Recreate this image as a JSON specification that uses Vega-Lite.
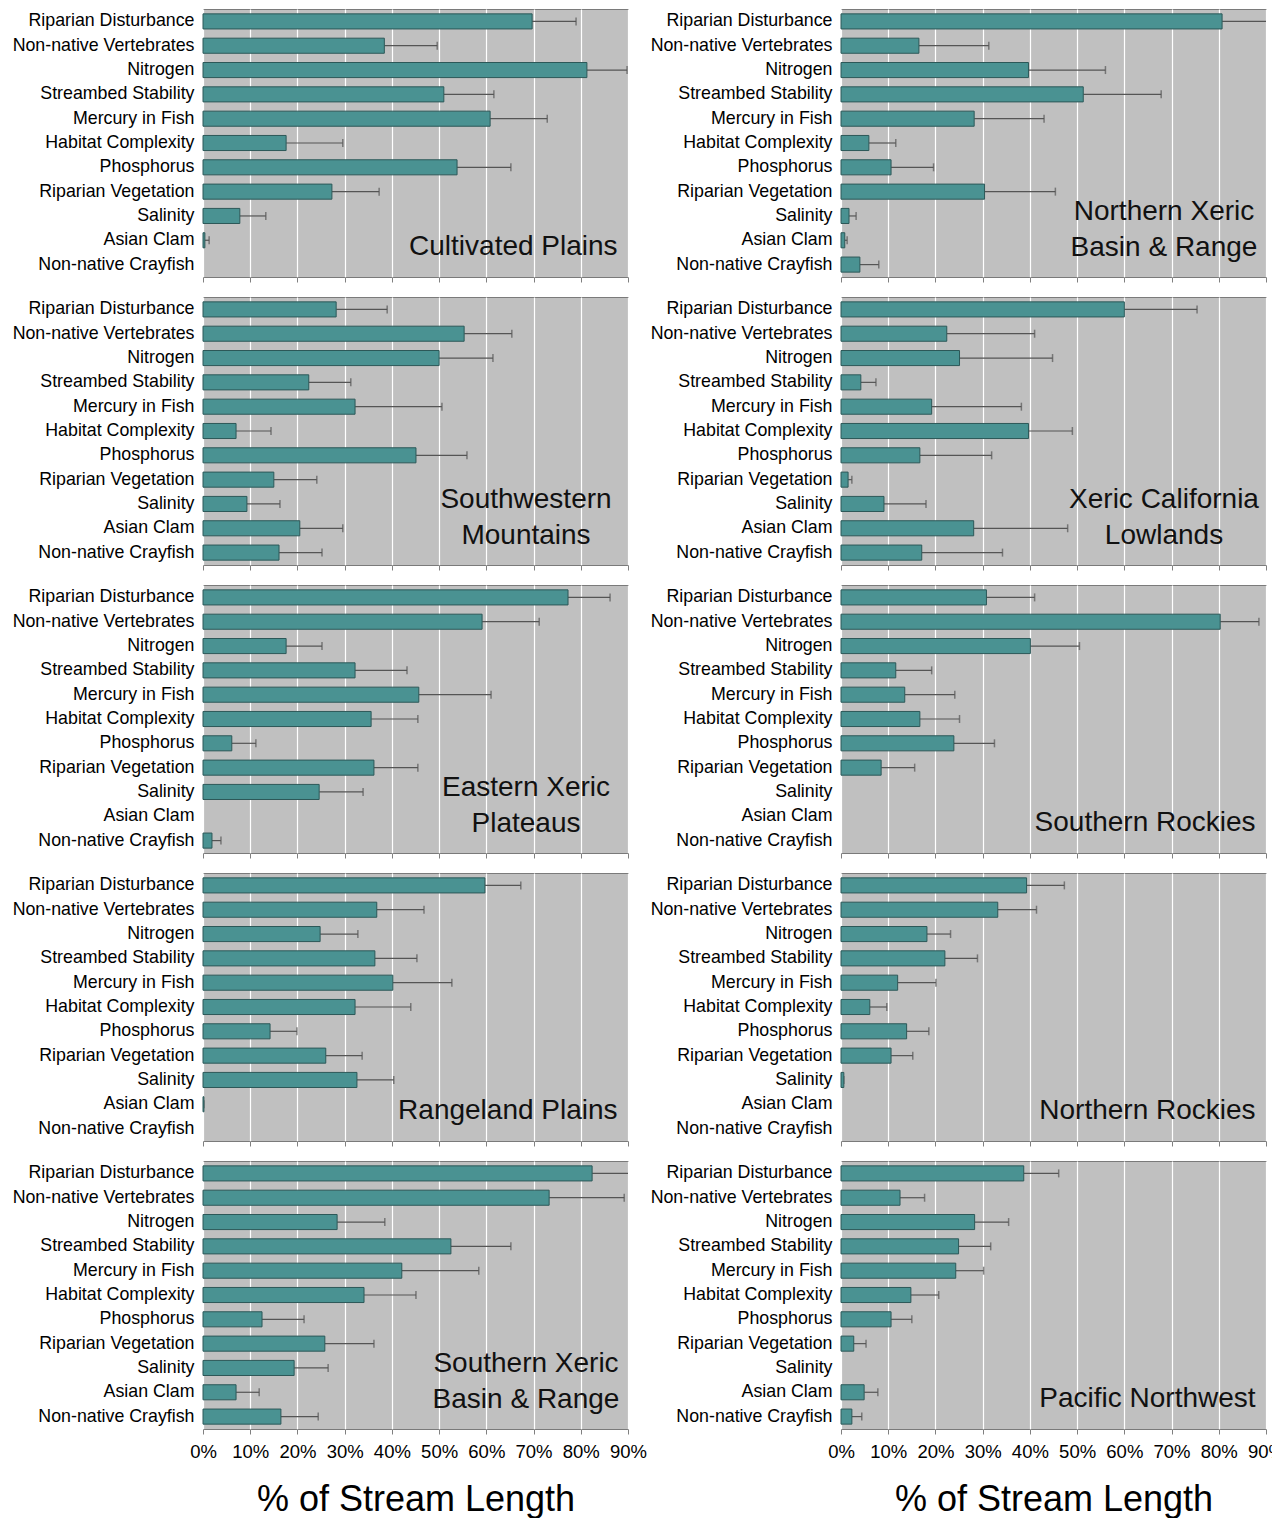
{
  "$schema": "https://vega.github.io/schema/vega-lite/v6.json",
  "padding": {"left": 11, "top": 8, "right": 0, "bottom": 0},
  "background": "#ffffff",
  "config": {
    "font": "Liberation Sans",
    "view": {"fill": "#c0c0c0", "stroke": "#7a7a7a", "strokeWidth": 1},
    "header": {"labels": false, "labelExpr": "''", "labelFontSize": 0, "labelPadding": 0, "titlePadding": 0},
    "headerFacet": {"labels": false, "labelExpr": "''", "labelFontSize": 0, "labelPadding": 0, "titlePadding": 0}
  },
  "data": {"values": [
    {"r": "Cultivated Plains", "c": "Riparian Disturbance", "v": 69.7, "e": 79.0},
    {"r": "Cultivated Plains", "c": "Non-native Vertebrates", "v": 38.4, "e": 49.6},
    {"r": "Cultivated Plains", "c": "Nitrogen", "v": 81.3, "e": 89.8},
    {"r": "Cultivated Plains", "c": "Streambed Stability", "v": 51.0, "e": 61.6},
    {"r": "Cultivated Plains", "c": "Mercury in Fish", "v": 60.8, "e": 72.9},
    {"r": "Cultivated Plains", "c": "Habitat Complexity", "v": 17.6, "e": 29.6},
    {"r": "Cultivated Plains", "c": "Phosphorus", "v": 53.8, "e": 65.2},
    {"r": "Cultivated Plains", "c": "Riparian Vegetation", "v": 27.3, "e": 37.3},
    {"r": "Cultivated Plains", "c": "Salinity", "v": 7.8, "e": 13.3},
    {"r": "Cultivated Plains", "c": "Asian Clam", "v": 0.4, "e": 1.3},
    {"r": "Cultivated Plains", "c": "Non-native Crayfish", "v": 0, "e": 0},

    {"r": "Northern Xeric|Basin & Range", "c": "Riparian Disturbance", "v": 80.7, "e": 93},
    {"r": "Northern Xeric|Basin & Range", "c": "Non-native Vertebrates", "v": 16.5, "e": 31.3},
    {"r": "Northern Xeric|Basin & Range", "c": "Nitrogen", "v": 39.7, "e": 56.0},
    {"r": "Northern Xeric|Basin & Range", "c": "Streambed Stability", "v": 51.3, "e": 67.8},
    {"r": "Northern Xeric|Basin & Range", "c": "Mercury in Fish", "v": 28.2, "e": 43.0},
    {"r": "Northern Xeric|Basin & Range", "c": "Habitat Complexity", "v": 5.9, "e": 11.6},
    {"r": "Northern Xeric|Basin & Range", "c": "Phosphorus", "v": 10.6, "e": 19.6},
    {"r": "Northern Xeric|Basin & Range", "c": "Riparian Vegetation", "v": 30.4, "e": 45.4},
    {"r": "Northern Xeric|Basin & Range", "c": "Salinity", "v": 1.7, "e": 3.2},
    {"r": "Northern Xeric|Basin & Range", "c": "Asian Clam", "v": 0.8, "e": 1.3},
    {"r": "Northern Xeric|Basin & Range", "c": "Non-native Crayfish", "v": 4.0, "e": 8.0},

    {"r": "Southwestern|Mountains", "c": "Riparian Disturbance", "v": 28.2, "e": 39.0},
    {"r": "Southwestern|Mountains", "c": "Non-native Vertebrates", "v": 55.3, "e": 65.4},
    {"r": "Southwestern|Mountains", "c": "Nitrogen", "v": 50.0, "e": 61.4},
    {"r": "Southwestern|Mountains", "c": "Streambed Stability", "v": 22.4, "e": 31.3},
    {"r": "Southwestern|Mountains", "c": "Mercury in Fish", "v": 32.2, "e": 50.6},
    {"r": "Southwestern|Mountains", "c": "Habitat Complexity", "v": 7.0, "e": 14.4},
    {"r": "Southwestern|Mountains", "c": "Phosphorus", "v": 45.1, "e": 55.9},
    {"r": "Southwestern|Mountains", "c": "Riparian Vegetation", "v": 15.0, "e": 24.1},
    {"r": "Southwestern|Mountains", "c": "Salinity", "v": 9.3, "e": 16.3},
    {"r": "Southwestern|Mountains", "c": "Asian Clam", "v": 20.5, "e": 29.6},
    {"r": "Southwestern|Mountains", "c": "Non-native Crayfish", "v": 16.1, "e": 25.2},

    {"r": "Xeric California|Lowlands", "c": "Riparian Disturbance", "v": 60.0, "e": 75.4},
    {"r": "Xeric California|Lowlands", "c": "Non-native Vertebrates", "v": 22.4, "e": 41.0},
    {"r": "Xeric California|Lowlands", "c": "Nitrogen", "v": 25.1, "e": 44.8},
    {"r": "Xeric California|Lowlands", "c": "Streambed Stability", "v": 4.2, "e": 7.4},
    {"r": "Xeric California|Lowlands", "c": "Mercury in Fish", "v": 19.2, "e": 38.2},
    {"r": "Xeric California|Lowlands", "c": "Habitat Complexity", "v": 39.7, "e": 49.0},
    {"r": "Xeric California|Lowlands", "c": "Phosphorus", "v": 16.7, "e": 31.9},
    {"r": "Xeric California|Lowlands", "c": "Riparian Vegetation", "v": 1.5, "e": 2.3},
    {"r": "Xeric California|Lowlands", "c": "Salinity", "v": 9.1, "e": 18.0},
    {"r": "Xeric California|Lowlands", "c": "Asian Clam", "v": 28.1, "e": 48.0},
    {"r": "Xeric California|Lowlands", "c": "Non-native Crayfish", "v": 17.1, "e": 34.2},

    {"r": "Eastern Xeric|Plateaus", "c": "Riparian Disturbance", "v": 77.3, "e": 86.2},
    {"r": "Eastern Xeric|Plateaus", "c": "Non-native Vertebrates", "v": 59.1, "e": 71.2},
    {"r": "Eastern Xeric|Plateaus", "c": "Nitrogen", "v": 17.6, "e": 25.2},
    {"r": "Eastern Xeric|Plateaus", "c": "Streambed Stability", "v": 32.2, "e": 43.2},
    {"r": "Eastern Xeric|Plateaus", "c": "Mercury in Fish", "v": 45.7, "e": 61.0},
    {"r": "Eastern Xeric|Plateaus", "c": "Habitat Complexity", "v": 35.6, "e": 45.5},
    {"r": "Eastern Xeric|Plateaus", "c": "Phosphorus", "v": 6.1, "e": 11.2},
    {"r": "Eastern Xeric|Plateaus", "c": "Riparian Vegetation", "v": 36.2, "e": 45.5},
    {"r": "Eastern Xeric|Plateaus", "c": "Salinity", "v": 24.6, "e": 33.9},
    {"r": "Eastern Xeric|Plateaus", "c": "Asian Clam", "v": 0, "e": 0},
    {"r": "Eastern Xeric|Plateaus", "c": "Non-native Crayfish", "v": 1.9, "e": 3.8},

    {"r": "Southern Rockies", "c": "Riparian Disturbance", "v": 30.8, "e": 41.0},
    {"r": "Southern Rockies", "c": "Non-native Vertebrates", "v": 80.3, "e": 88.5},
    {"r": "Southern Rockies", "c": "Nitrogen", "v": 40.1, "e": 50.5},
    {"r": "Southern Rockies", "c": "Streambed Stability", "v": 11.6, "e": 19.2},
    {"r": "Southern Rockies", "c": "Mercury in Fish", "v": 13.5, "e": 24.1},
    {"r": "Southern Rockies", "c": "Habitat Complexity", "v": 16.7, "e": 25.1},
    {"r": "Southern Rockies", "c": "Phosphorus", "v": 23.9, "e": 32.5},
    {"r": "Southern Rockies", "c": "Riparian Vegetation", "v": 8.5, "e": 15.6},
    {"r": "Southern Rockies", "c": "Salinity", "v": 0, "e": 0},
    {"r": "Southern Rockies", "c": "Asian Clam", "v": 0, "e": 0},
    {"r": "Southern Rockies", "c": "Non-native Crayfish", "v": 0, "e": 0},

    {"r": "Rangeland Plains", "c": "Riparian Disturbance", "v": 59.7, "e": 67.3},
    {"r": "Rangeland Plains", "c": "Non-native Vertebrates", "v": 36.8, "e": 46.8},
    {"r": "Rangeland Plains", "c": "Nitrogen", "v": 24.8, "e": 32.8},
    {"r": "Rangeland Plains", "c": "Streambed Stability", "v": 36.4, "e": 45.3},
    {"r": "Rangeland Plains", "c": "Mercury in Fish", "v": 40.2, "e": 52.7},
    {"r": "Rangeland Plains", "c": "Habitat Complexity", "v": 32.2, "e": 44.0},
    {"r": "Rangeland Plains", "c": "Phosphorus", "v": 14.2, "e": 19.9},
    {"r": "Rangeland Plains", "c": "Riparian Vegetation", "v": 26.0, "e": 33.7},
    {"r": "Rangeland Plains", "c": "Salinity", "v": 32.6, "e": 40.4},
    {"r": "Rangeland Plains", "c": "Asian Clam", "v": 0.2, "e": 0.2},
    {"r": "Rangeland Plains", "c": "Non-native Crayfish", "v": 0, "e": 0},

    {"r": "Northern Rockies", "c": "Riparian Disturbance", "v": 39.3, "e": 47.3},
    {"r": "Northern Rockies", "c": "Non-native Vertebrates", "v": 33.2, "e": 41.4},
    {"r": "Northern Rockies", "c": "Nitrogen", "v": 18.2, "e": 23.2},
    {"r": "Northern Rockies", "c": "Streambed Stability", "v": 22.0, "e": 28.9},
    {"r": "Northern Rockies", "c": "Mercury in Fish", "v": 12.0, "e": 20.1},
    {"r": "Northern Rockies", "c": "Habitat Complexity", "v": 6.1, "e": 9.7},
    {"r": "Northern Rockies", "c": "Phosphorus", "v": 13.9, "e": 18.6},
    {"r": "Northern Rockies", "c": "Riparian Vegetation", "v": 10.6, "e": 15.2},
    {"r": "Northern Rockies", "c": "Salinity", "v": 0.6, "e": 0.6},
    {"r": "Northern Rockies", "c": "Asian Clam", "v": 0, "e": 0},
    {"r": "Northern Rockies", "c": "Non-native Crayfish", "v": 0, "e": 0},

    {"r": "Southern Xeric|Basin & Range", "c": "Riparian Disturbance", "v": 82.4, "e": 93},
    {"r": "Southern Xeric|Basin & Range", "c": "Non-native Vertebrates", "v": 73.3, "e": 89.2},
    {"r": "Southern Xeric|Basin & Range", "c": "Nitrogen", "v": 28.4, "e": 38.5},
    {"r": "Southern Xeric|Basin & Range", "c": "Streambed Stability", "v": 52.5, "e": 65.2},
    {"r": "Southern Xeric|Basin & Range", "c": "Mercury in Fish", "v": 42.1, "e": 58.4},
    {"r": "Southern Xeric|Basin & Range", "c": "Habitat Complexity", "v": 34.1, "e": 45.1},
    {"r": "Southern Xeric|Basin & Range", "c": "Phosphorus", "v": 12.5, "e": 21.4},
    {"r": "Southern Xeric|Basin & Range", "c": "Riparian Vegetation", "v": 25.8, "e": 36.2},
    {"r": "Southern Xeric|Basin & Range", "c": "Salinity", "v": 19.3, "e": 26.5},
    {"r": "Southern Xeric|Basin & Range", "c": "Asian Clam", "v": 7.0, "e": 11.9},
    {"r": "Southern Xeric|Basin & Range", "c": "Non-native Crayfish", "v": 16.5, "e": 24.4},

    {"r": "Pacific Northwest", "c": "Riparian Disturbance", "v": 38.7, "e": 46.1},
    {"r": "Pacific Northwest", "c": "Non-native Vertebrates", "v": 12.5, "e": 17.7},
    {"r": "Pacific Northwest", "c": "Nitrogen", "v": 28.3, "e": 35.5},
    {"r": "Pacific Northwest", "c": "Streambed Stability", "v": 24.9, "e": 31.7},
    {"r": "Pacific Northwest", "c": "Mercury in Fish", "v": 24.3, "e": 30.2},
    {"r": "Pacific Northwest", "c": "Habitat Complexity", "v": 14.8, "e": 20.7},
    {"r": "Pacific Northwest", "c": "Phosphorus", "v": 10.6, "e": 15.0},
    {"r": "Pacific Northwest", "c": "Riparian Vegetation", "v": 2.7, "e": 5.3},
    {"r": "Pacific Northwest", "c": "Salinity", "v": 0, "e": 0},
    {"r": "Pacific Northwest", "c": "Asian Clam", "v": 4.9, "e": 7.8},
    {"r": "Pacific Northwest", "c": "Non-native Crayfish", "v": 2.3, "e": 4.4}
  ]},
  "spacing": 13,
  "vconcat": [
    {
      "transform": [{"filter": "datum.r != 'Southern Xeric|Basin & Range' && datum.r != 'Pacific Northwest'"}],
      "facet": {"field": "r", "type": "nominal", "title": null, "header": {"labels": false, "labelExpr": "''", "labelFontSize": 0, "labelPadding": 0},
        "sort": ["Cultivated Plains", "Northern Xeric|Basin & Range", "Southwestern|Mountains", "Xeric California|Lowlands", "Eastern Xeric|Plateaus", "Southern Rockies", "Rangeland Plains", "Northern Rockies"]},
      "columns": 2,
      "spacing": {"row": 20, "column": 213},
      "bounds": "flush",
      "resolve": {"axis": {"x": "independent", "y": "independent"}},
      "spec": {
        "width": 425,
        "height": 268,
        "encoding": {
          "y": {"field": "c", "type": "nominal", "sort": null,
            "scale": {"domain": ["Riparian Disturbance", "Non-native Vertebrates", "Nitrogen", "Streambed Stability", "Mercury in Fish", "Habitat Complexity", "Phosphorus", "Riparian Vegetation", "Salinity", "Asian Clam", "Non-native Crayfish"], "paddingInner": 0.38, "paddingOuter": 0.2},
            "axis": {"title": null, "ticks": false, "domain": false, "labelFontSize": 17.8, "labelPadding": 9, "labelLimit": 0, "labelColor": "#000000"}}
        },
        "layer": [
          {"transform": [{"filter": "datum.v > 0"}],
           "mark": {"type": "rule", "color": "#555555", "strokeWidth": 1.2, "clip": true},
           "encoding": {
             "x": {"field": "v", "type": "quantitative", "scale": {"domain": [0, 90], "nice": false},
               "axis": {"values": [0, 10, 20, 30, 40, 50, 60, 70, 80, 90], "labels": false, "ticks": true, "tickSize": 5, "tickColor": "#808080", "domain": false, "grid": true, "gridColor": "#ffffff", "gridWidth": 1.2, "title": null}},
             "x2": {"field": "e"}}},
          {"transform": [{"filter": "datum.v > 0"}],
           "mark": {"type": "tick", "color": "#555555", "thickness": 1.5, "size": 8, "clip": true},
           "encoding": {"x": {"field": "e", "type": "quantitative"}}},
          {"transform": [{"filter": "datum.v > 0"}],
           "mark": {"type": "bar", "fill": "#4a9292", "stroke": "#2c5858", "strokeWidth": 1},
           "encoding": {"x": {"field": "v", "type": "quantitative"}}},
          {"transform": [{"filter": "datum.c == 'Riparian Disturbance' && indexof(datum.r, '|') < 0"}],
           "mark": {"type": "text", "align": "right", "baseline": "alphabetic", "fontSize": 28, "dy": -10, "color": "#111111"},
           "encoding": {"x": {"datum": 87.8}, "y": {"datum": "Non-native Crayfish"}, "text": {"field": "r"}}},
          {"transform": [{"filter": "datum.c == 'Riparian Disturbance' && indexof(datum.r, '|') >= 0"}],
           "mark": {"type": "text", "align": "center", "baseline": "alphabetic", "fontSize": 28, "dy": 4, "lineBreak": "|", "lineHeight": 36, "color": "#111111"},
           "encoding": {"x": {"datum": 68.4}, "y": {"datum": "Salinity"}, "text": {"field": "r"}}}
        ]
      }
    },
    {
      "transform": [{"filter": "datum.r == 'Southern Xeric|Basin & Range' || datum.r == 'Pacific Northwest'"}],
      "facet": {"field": "r", "type": "nominal", "title": null, "header": {"labels": false, "labelExpr": "''", "labelFontSize": 0, "labelPadding": 0},
        "sort": ["Southern Xeric|Basin & Range", "Pacific Northwest"]},
      "columns": 2,
      "spacing": {"row": 20, "column": 213},
      "bounds": "flush",
      "resolve": {"axis": {"x": "independent", "y": "independent"}},
      "spec": {
        "width": 425,
        "height": 268,
        "encoding": {
          "y": {"field": "c", "type": "nominal", "sort": null,
            "scale": {"domain": ["Riparian Disturbance", "Non-native Vertebrates", "Nitrogen", "Streambed Stability", "Mercury in Fish", "Habitat Complexity", "Phosphorus", "Riparian Vegetation", "Salinity", "Asian Clam", "Non-native Crayfish"], "paddingInner": 0.38, "paddingOuter": 0.2},
            "axis": {"title": null, "ticks": false, "domain": false, "labelFontSize": 17.8, "labelPadding": 9, "labelLimit": 0, "labelColor": "#000000"}}
        },
        "layer": [
          {"transform": [{"filter": "datum.v > 0"}],
           "mark": {"type": "rule", "color": "#555555", "strokeWidth": 1.2, "clip": true},
           "encoding": {
             "x": {"field": "v", "type": "quantitative", "scale": {"domain": [0, 90], "nice": false},
               "axis": {"values": [0, 10, 20, 30, 40, 50, 60, 70, 80, 90], "labelExpr": "datum.value + '%'", "labelFontSize": 18.5, "labelColor": "#000000", "labelPadding": 8, "labelFlush": false, "ticks": true, "tickSize": 5, "tickColor": "#808080", "domain": false, "grid": true, "gridColor": "#ffffff", "gridWidth": 1.2,
                 "title": "% of Stream Length", "titleFontSize": 36, "titleFontWeight": "normal", "titleColor": "#000000", "titlePadding": 22}},
             "x2": {"field": "e"}}},
          {"transform": [{"filter": "datum.v > 0"}],
           "mark": {"type": "tick", "color": "#555555", "thickness": 1.5, "size": 8, "clip": true},
           "encoding": {"x": {"field": "e", "type": "quantitative"}}},
          {"transform": [{"filter": "datum.v > 0"}],
           "mark": {"type": "bar", "fill": "#4a9292", "stroke": "#2c5858", "strokeWidth": 1},
           "encoding": {"x": {"field": "v", "type": "quantitative"}}},
          {"transform": [{"filter": "datum.c == 'Riparian Disturbance' && indexof(datum.r, '|') < 0"}],
           "mark": {"type": "text", "align": "right", "baseline": "alphabetic", "fontSize": 28, "dy": -10, "color": "#111111"},
           "encoding": {"x": {"datum": 87.8}, "y": {"datum": "Non-native Crayfish"}, "text": {"field": "r"}}},
          {"transform": [{"filter": "datum.c == 'Riparian Disturbance' && indexof(datum.r, '|') >= 0"}],
           "mark": {"type": "text", "align": "center", "baseline": "alphabetic", "fontSize": 28, "dy": 4, "lineBreak": "|", "lineHeight": 36, "color": "#111111"},
           "encoding": {"x": {"datum": 68.4}, "y": {"datum": "Salinity"}, "text": {"field": "r"}}}
        ]
      }
    }
  ]
}
